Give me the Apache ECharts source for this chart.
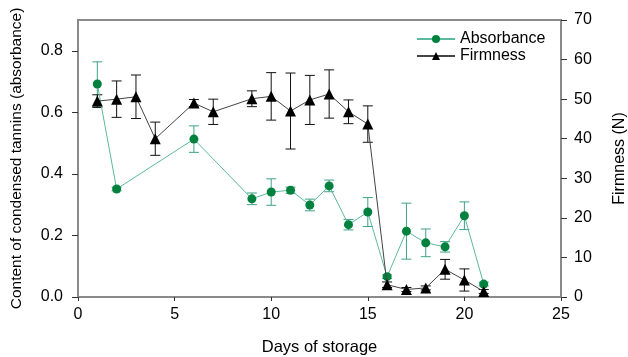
<!DOCTYPE html>
<html><head><meta charset="utf-8">
<script src="https://cdn.jsdelivr.net/npm/echarts@6/dist/echarts.min.js"></script>
<style>html,body{margin:0;padding:0;background:#fff}#c{width:628px;height:357px}</style>
</head><body><div id="c"></div>
<script>
const absDays = [1, 2, 6, 9, 10, 11, 12, 13, 14, 15, 16, 17, 18, 19, 20, 21];
const absorbance = [0.692, 0.351, 0.513, 0.319, 0.341, 0.347, 0.299, 0.361, 0.235, 0.276, 0.066, 0.214, 0.176, 0.163, 0.264, 0.042];
const absErr = [0.072, 0.006, 0.043, 0.019, 0.043, 0.010, 0.019, 0.019, 0.017, 0.047, 0.006, 0.091, 0.045, 0.017, 0.045, 0.006];
const firmDays = [1, 2, 3, 4, 6, 7, 9, 10, 11, 12, 13, 14, 15, 16, 17, 18, 19, 20, 21];
const firmness = [49.5, 50.0, 50.6, 40.0, 49.0, 46.8, 50.1, 50.7, 47.0, 49.8, 51.3, 46.8, 43.7, 3.1, 1.9, 2.3, 7.0, 4.3, 1.4];
const firmErr = [1.6, 4.6, 5.5, 4.2, 0.9, 3.2, 2.0, 6.0, 9.6, 6.2, 6.1, 3.0, 4.6, 0.7, 0.5, 0.5, 2.5, 2.8, 0.5];
const xTicks = {min: 0, max: 25, interval: 5};
const leftTicks = {min: 0, max: 0.9, interval: 0.2};
const rightTicks = {min: 0, max: 70, interval: 10};

const font = 'Liberation Sans, Arial, sans-serif';
const axisGray = '#8a8a8a';

function errRenderer(color) {
  return function (params, api) {
    const x = api.value(0), y = api.value(1), e = api.value(2);
    const top = api.coord([x, y + e]);
    const bot = api.coord([x, y - e]);
    const hw = 5;
    const st = {stroke: color, lineWidth: 1};
    return {type: 'group', children: [
      {type: 'line', shape: {x1: top[0], y1: top[1], x2: bot[0], y2: bot[1]}, style: st},
      {type: 'line', shape: {x1: top[0] - hw, y1: top[1], x2: top[0] + hw, y2: top[1]}, style: st},
      {type: 'line', shape: {x1: bot[0] - hw, y1: bot[1], x2: bot[0] + hw, y2: bot[1]}, style: st}
    ]};
  };
}

const chart = echarts.init(document.getElementById('c'), null, {renderer: 'canvas'});
chart.setOption({
  animation: false,
  backgroundColor: '#fff',
  textStyle: {fontFamily: font},
  grid: {left: 78, right: 67, top: 20, bottom: 60, outerBoundsMode: 'none', containLabel: false,
    show: true, borderColor: axisGray, borderWidth: 2, backgroundColor: 'transparent'},
  legend: {
    orient: 'vertical', left: 411, top: 26, itemWidth: 38, itemHeight: 10, itemGap: 1,
    textStyle: {fontFamily: font, fontSize: 16, color: '#000'},
    data: ['Absorbance', 'Firmness']
  },
  xAxis: {
    type: 'value', min: xTicks.min, max: xTicks.max, interval: xTicks.interval,
    name: 'Days of storage', nameLocation: 'middle', nameGap: 42,
    nameTextStyle: {fontFamily: font, fontSize: 16.5, color: '#000'},
    axisLine: {lineStyle: {color: axisGray, width: 2}},
    axisTick: {show: true, length: 4, lineStyle: {color: '#333'}},
    axisLabel: {fontFamily: font, fontSize: 16, color: '#000', margin: 10},
    splitLine: {show: false}
  },
  yAxis: [{
    type: 'value', min: leftTicks.min, max: leftTicks.max, interval: leftTicks.interval,
    name: 'Content of condensed tannins (absorbance)', nameLocation: 'middle', nameGap: 53,
    nameTextStyle: {fontFamily: font, fontSize: 15.5, color: '#000'},
    axisLine: {show: true, lineStyle: {color: axisGray, width: 2}},
    axisTick: {show: true, length: 6, lineStyle: {color: '#333'}},
    axisLabel: {fontFamily: font, fontSize: 16, color: '#000', margin: 15, showMaxLabel: false,
      formatter: v => (Math.abs(v - 0.9) < 1e-6 ? '' : v.toFixed(1))},
    splitLine: {show: false}
  }, {
    type: 'value', position: 'right', min: rightTicks.min, max: rightTicks.max, interval: rightTicks.interval,
    name: 'Firmness (N)', nameLocation: 'middle', nameGap: 51,
    nameTextStyle: {fontFamily: font, fontSize: 16, color: '#000'},
    axisLine: {show: true, lineStyle: {color: axisGray, width: 2}},
    axisTick: {show: true, length: 6, lineStyle: {color: '#333'}},
    axisLabel: {fontFamily: font, fontSize: 16, color: '#000', margin: 13},
    splitLine: {show: false}
  }],
  series: [
    {
      name: 'absErr', type: 'custom', yAxisIndex: 0, z: 2,
      renderItem: errRenderer('#3fa287'),
      data: absDays.map((d, i) => [d, absorbance[i], absErr[i]])
    },
    {
      name: 'firmErr', type: 'custom', yAxisIndex: 1, z: 2,
      renderItem: errRenderer('#111'),
      data: firmDays.map((d, i) => [d, firmness[i], firmErr[i]])
    },
    {
      name: 'Absorbance', type: 'line', yAxisIndex: 0, z: 3,
      data: absDays.map((d, i) => [d, absorbance[i]]),
      symbol: 'circle', symbolSize: 9,
      itemStyle: {color: '#00813d'},
      lineStyle: {color: '#5db99e', width: 1}
    },
    {
      name: 'Firmness', type: 'line', yAxisIndex: 1, z: 4,
      data: firmDays.map((d, i) => [d, firmness[i]]),
      symbol: 'triangle', symbolSize: 11,
      itemStyle: {color: '#000'},
      lineStyle: {color: '#444', width: 1}
    }
  ]
});
</script></body></html>
